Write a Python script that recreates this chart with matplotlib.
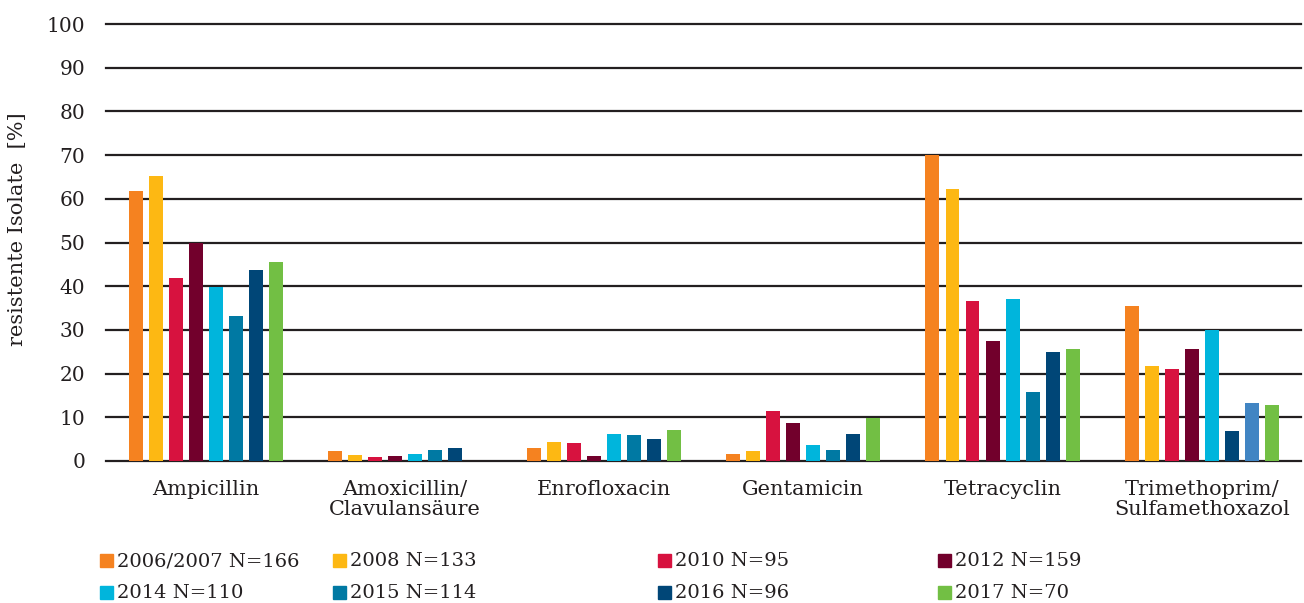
import numpy as np
import matplotlib.pyplot as plt
from matplotlib.patches import Rectangle

# Data
categories = ['Ampicillin', 'Amoxicillin/\nClavulansäure', 'Enrofloxacin',
              'Gentamicin', 'Tetracyclin', 'Trimethoprim/\nSulfamethoxazol']
series = ['2006/2007 N=166', '2008 N=133', '2010 N=95', '2012 N=159',
          '2014 N=110', '2015 N=114', '2016 N=96', '2017 N=70']
v2006 = [61.8, 2.3, 3.0, 1.6, 70.0, 35.5]
v2008 = [65.2, 1.4, 4.3, 2.3, 62.2, 21.7]
v2010 = [41.9, 0.9, 4.1, 11.4, 36.6, 21.1]
v2012 = [49.8, 1.1, 1.1, 8.7, 27.5, 25.6]
v2014 = [39.9, 1.6, 6.2, 3.7, 37.1, 30.0]
v2015 = [33.2, 2.5, 6.0, 2.5, 15.8, 6.9]
v2016 = [43.7, 3.0, 5.0, 6.2, 24.9, 13.3]
v2017 = [45.5, 0.0, 7.1, 9.8, 25.6, 12.8]
values = [v2006, v2008, v2010, v2012, v2014, v2015, v2016, v2017]

colors = ['#f58220', '#fdb813', '#d7123f', '#72002c',
          '#00b5dc', '#0079a3', '#004677', '#72bf44']
# the last group uses different blues in the original
last_group_colors = {5: '#004677', 6: '#4185c3'}

text_col = '#231f20'
plt.rcParams['font.family'] = ['DejaVu Serif']

fig = plt.figure(figsize=(13.04, 6.03), dpi=100)
ax = fig.add_axes([0.0813, 0.2355, 0.9167, 0.7245])

x = np.arange(len(categories))
step = 0.1005
width = 0.070
for i, (vals, c) in enumerate(zip(values, colors)):
    offs = (i - 3.5) * step
    cols = [c] * len(categories)
    if i in last_group_colors:
        cols[-1] = last_group_colors[i]
    ax.bar(x + offs, vals, width=width, color=cols, zorder=3)

ax.set_xlim(-0.5, 5.5)
ax.set_ylim(0, 100)
ax.set_yticks(np.arange(0, 101, 10))
ax.yaxis.grid(True, color=text_col, linewidth=1.6, zorder=1)
for gl in ax.get_ygridlines():
    gl.set_clip_on(False)
ax.set_axisbelow(True)
for s in ax.spines.values():
    s.set_visible(False)
ax.tick_params(axis='both', length=0, colors=text_col)
ax.tick_params(axis='y', labelsize=14.5, pad=15)
ax.tick_params(axis='x', labelsize=15, pad=14)
ax.set_xticks(x)
ax.set_xticklabels(categories, linespacing=1.05)
ax.set_ylabel('resistente Isolate  [%]', fontsize=15, color=text_col)
ax.yaxis.set_label_coords(-0.066, 0.53)

# legend laid out in 4 columns x 2 rows
col_x = [100, 333, 658, 938]
row_y = [561, 593]
W, H = 1304, 603
for k, (lab, c) in enumerate(zip(series, colors)):
    cx = col_x[k % 4]
    cy = row_y[k // 4]
    fig.patches.append(Rectangle((cx / W, 1 - (cy + 6) / H), 13 / W, 13 / H,
                                 transform=fig.transFigure, color=c))
    fig.text((cx + 17) / W, 1 - cy / H, lab, fontsize=14, color=text_col,
             va='center', ha='left')

fig.savefig('out.png', dpi=100)
